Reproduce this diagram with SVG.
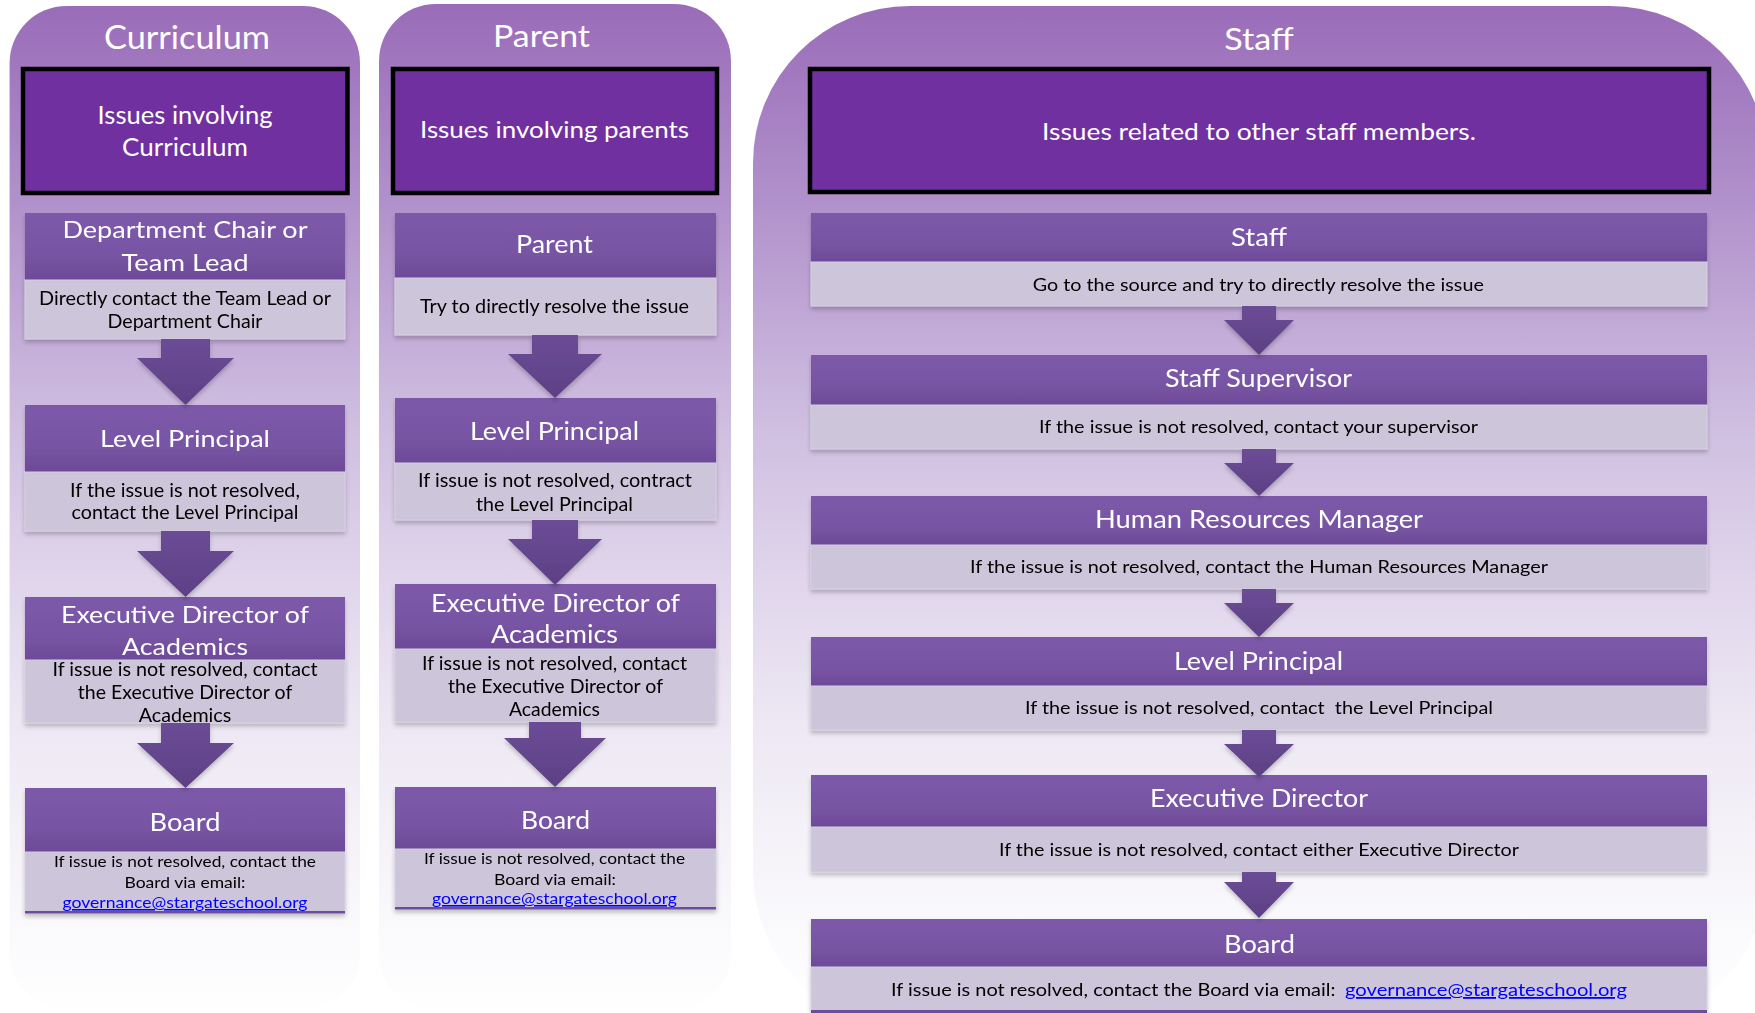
<svg xmlns="http://www.w3.org/2000/svg" width="1755" height="1013" viewBox="0 0 1755 1013">
<defs>
<linearGradient id="panelGrad" gradientUnits="userSpaceOnUse" x1="0" y1="0" x2="0" y2="1013">
<stop offset="0" stop-color="#996bb8"/>
<stop offset="0.2" stop-color="#b191cb"/>
<stop offset="0.4" stop-color="#cdbbdf"/>
<stop offset="0.55" stop-color="#ded2ea"/>
<stop offset="0.7" stop-color="#ece6f3"/>
<stop offset="0.85" stop-color="#f6f4f9"/>
<stop offset="1" stop-color="#ffffff"/>
</linearGradient>
<linearGradient id="hdrGrad" x1="0" y1="0" x2="0" y2="1">
<stop offset="0" stop-color="#7d59a9"/>
<stop offset="0.6" stop-color="#7855a4"/>
<stop offset="1" stop-color="#6d4a98"/>
</linearGradient>
<linearGradient id="arrGrad" x1="0" y1="0" x2="0" y2="1">
<stop offset="0" stop-color="#6b4c96"/>
<stop offset="1" stop-color="#5d4085"/>
</linearGradient>
<filter id="shadow" x="-5%" y="-10%" width="110%" height="130%">
<feDropShadow dx="0" dy="3" stdDeviation="2" flood-color="#000" flood-opacity="0.22"/>
</filter>
</defs>
<style>
.panel{fill:url(#panelGrad)}
.issue{fill:#7030a0;stroke:#000;stroke-width:4.5}
.hdr{fill:url(#hdrGrad)}
.body{fill:#cdc5da;stroke:#d6cfe2;stroke-width:1}
.arrow{fill:url(#arrGrad);filter:url(#shadow)}
.boardline{fill:#6d4e9a}
text{font-family:Lato,"Open Sans","Liberation Sans",sans-serif;text-anchor:middle}
.ttl{fill:#ffffff}
.wt{fill:#ffffff}
.bk{fill:#000000}
.lnk{fill:#0000ff;text-decoration:underline}
.pre{white-space:pre}
</style>
<rect x="0" y="0" width="1755" height="1013" fill="#ffffff"/>

<!-- Panels -->
<g id="panel-curriculum">
<rect class="panel" x="9.6" y="6" width="350.4" height="1004" rx="57" ry="57"/>
<text class="ttl" x="187" y="49" font-size="32" textLength="166" lengthAdjust="spacingAndGlyphs">Curriculum</text>
</g>
<g id="panel-parent">
<rect class="panel" x="379" y="4" width="352" height="1006" rx="57" ry="57"/>
<text class="ttl" x="541.5" y="47" font-size="30" textLength="97" lengthAdjust="spacingAndGlyphs">Parent</text>
</g>
<g id="panel-staff">
<rect class="panel" x="753" y="6" width="1014" height="1023" rx="157" ry="157"/>
<text class="ttl" x="1259" y="50" font-size="31" textLength="69.5" lengthAdjust="spacingAndGlyphs">Staff</text>
</g>

<!-- Curriculum column -->
<g id="c-issue">
<rect class="issue" x="23" y="69" width="324.5" height="124"/>
<text class="wt" x="185" y="124" font-size="25" textLength="175" lengthAdjust="spacingAndGlyphs">Issues involving</text>
<text class="wt" x="185" y="156" font-size="25" textLength="126" lengthAdjust="spacingAndGlyphs">Curriculum</text>
</g>
<g id="c-dept" filter="url(#shadow)">
<rect class="hdr" x="25" y="213" width="320" height="67"/>
<rect class="body" x="25" y="280" width="320" height="59"/>
<text class="wt" x="185" y="238" font-size="23" textLength="245" lengthAdjust="spacingAndGlyphs">Department Chair or</text>
<text class="wt" x="185" y="271" font-size="23" textLength="127" lengthAdjust="spacingAndGlyphs">Team Lead</text>
<text class="bk" x="185" y="305" font-size="19" textLength="292" lengthAdjust="spacingAndGlyphs">Directly contact the Team Lead or</text>
<text class="bk" x="185" y="328" font-size="19" textLength="155" lengthAdjust="spacingAndGlyphs">Department Chair</text>
</g>
<g id="c-level" filter="url(#shadow)">
<rect class="hdr" x="25" y="405" width="320" height="67"/>
<rect class="body" x="25" y="472" width="320" height="59"/>
<text class="wt" x="185" y="447" font-size="23" textLength="170" lengthAdjust="spacingAndGlyphs">Level Principal</text>
<text class="bk" x="185" y="497" font-size="19" textLength="230" lengthAdjust="spacingAndGlyphs">If the issue is not resolved,</text>
<text class="bk" x="185" y="519" font-size="19" textLength="227" lengthAdjust="spacingAndGlyphs">contact the Level Principal</text>
</g>
<g id="c-exec" filter="url(#shadow)">
<rect class="hdr" x="25" y="597" width="320" height="63"/>
<rect class="body" x="25" y="660" width="320" height="63"/>
<text class="wt" x="185" y="623" font-size="23" textLength="248" lengthAdjust="spacingAndGlyphs">Executive Director of</text>
<text class="wt" x="185" y="655" font-size="23" textLength="126" lengthAdjust="spacingAndGlyphs">Academics</text>
<text class="bk" x="185" y="676" font-size="19" textLength="265" lengthAdjust="spacingAndGlyphs">If issue is not resolved, contact</text>
<text class="bk" x="185" y="699" font-size="19" textLength="214.5" lengthAdjust="spacingAndGlyphs">the Executive Director of</text>
<text class="bk" x="185" y="722" font-size="19" textLength="92.5" lengthAdjust="spacingAndGlyphs">Academics</text>
</g>
<g id="c-board" filter="url(#shadow)">
<rect class="hdr" x="25" y="788" width="320" height="64"/>
<rect class="body" x="25" y="852" width="320" height="61"/>
<rect class="boardline" x="25" y="911" width="320" height="2.5"/>
<text class="wt" x="185" y="831" font-size="25" textLength="71" lengthAdjust="spacingAndGlyphs">Board</text>
<text class="bk" x="185" y="867" font-size="16" textLength="262" lengthAdjust="spacingAndGlyphs">If issue is not resolved, contact the</text>
<text class="bk" x="185" y="888" font-size="16" textLength="121" lengthAdjust="spacingAndGlyphs">Board via email:</text>
<text class="lnk" x="185" y="908" font-size="16" textLength="245" lengthAdjust="spacingAndGlyphs">governance@stargateschool.org</text>
</g>

<!-- Parent column -->
<g id="p-issue">
<rect class="issue" x="393" y="69" width="324" height="124"/>
<text class="wt" x="554.5" y="138" font-size="23" textLength="269" lengthAdjust="spacingAndGlyphs">Issues involving parents</text>
</g>
<g id="p-parent" filter="url(#shadow)">
<rect class="hdr" x="395" y="213" width="321" height="65"/>
<rect class="body" x="395" y="278" width="321" height="57"/>
<text class="wt" x="554.5" y="253" font-size="24.5" textLength="77" lengthAdjust="spacingAndGlyphs">Parent</text>
<text class="bk" x="554.5" y="313" font-size="19" textLength="269" lengthAdjust="spacingAndGlyphs">Try to directly resolve the issue</text>
</g>
<g id="p-level" filter="url(#shadow)">
<rect class="hdr" x="395" y="398" width="321" height="65"/>
<rect class="body" x="395" y="463" width="321" height="57"/>
<text class="wt" x="554.5" y="440" font-size="25" textLength="169" lengthAdjust="spacingAndGlyphs">Level Principal</text>
<text class="bk" x="555" y="487" font-size="19" textLength="274" lengthAdjust="spacingAndGlyphs">If issue is not resolved, contract</text>
<text class="bk" x="554.5" y="511" font-size="19" textLength="157" lengthAdjust="spacingAndGlyphs">the Level Principal</text>
</g>
<g id="p-exec" filter="url(#shadow)">
<rect class="hdr" x="395" y="584" width="321" height="65"/>
<rect class="body" x="395" y="649" width="321" height="73"/>
<text class="wt" x="555.5" y="612" font-size="25" textLength="249" lengthAdjust="spacingAndGlyphs">Executive Director of</text>
<text class="wt" x="554.5" y="643" font-size="25" textLength="127" lengthAdjust="spacingAndGlyphs">Academics</text>
<text class="bk" x="554.5" y="670" font-size="19" textLength="265" lengthAdjust="spacingAndGlyphs">If issue is not resolved, contact</text>
<text class="bk" x="555.5" y="693" font-size="19" textLength="215" lengthAdjust="spacingAndGlyphs">the Executive Director of</text>
<text class="bk" x="554.5" y="716" font-size="19" textLength="91" lengthAdjust="spacingAndGlyphs">Academics</text>
</g>
<g id="p-board" filter="url(#shadow)">
<rect class="hdr" x="395" y="787" width="321" height="62"/>
<rect class="body" x="395" y="849" width="321" height="60"/>
<rect class="boardline" x="395" y="907" width="321" height="2.5"/>
<text class="wt" x="555.5" y="829" font-size="25" textLength="69" lengthAdjust="spacingAndGlyphs">Board</text>
<text class="bk" x="554.5" y="864" font-size="16" textLength="261" lengthAdjust="spacingAndGlyphs">If issue is not resolved, contact the</text>
<text class="bk" x="555" y="885" font-size="16" textLength="122" lengthAdjust="spacingAndGlyphs">Board via email:</text>
<text class="lnk" x="554.5" y="904" font-size="16" textLength="245" lengthAdjust="spacingAndGlyphs">governance@stargateschool.org</text>
</g>

<!-- Staff column -->
<g id="s-issue">
<rect class="issue" x="810" y="69" width="899" height="123"/>
<text class="wt" x="1259" y="140" font-size="23" textLength="434" lengthAdjust="spacingAndGlyphs">Issues related to other staff members.</text>
</g>
<g id="s-staff" filter="url(#shadow)">
<rect class="hdr" x="811" y="213" width="896" height="49"/>
<rect class="body" x="811" y="262" width="896" height="44"/>
<text class="wt" x="1259" y="246" font-size="24.5" textLength="56" lengthAdjust="spacingAndGlyphs">Staff</text>
<text class="bk" x="1258.3" y="291" font-size="18" textLength="451" lengthAdjust="spacingAndGlyphs">Go to the source and try to directly resolve the issue</text>
</g>
<g id="s-supervisor" filter="url(#shadow)">
<rect class="hdr" x="811" y="355" width="896" height="50"/>
<rect class="body" x="811" y="405" width="896" height="44"/>
<text class="wt" x="1258.5" y="387" font-size="24.5" textLength="187" lengthAdjust="spacingAndGlyphs">Staff Supervisor</text>
<text class="bk" x="1258.5" y="433" font-size="18" textLength="439" lengthAdjust="spacingAndGlyphs">If the issue is not resolved, contact your supervisor</text>
</g>
<g id="s-hr" filter="url(#shadow)">
<rect class="hdr" x="811" y="496" width="896" height="49"/>
<rect class="body" x="811" y="545" width="896" height="44"/>
<text class="wt" x="1259" y="528" font-size="24.5" textLength="328" lengthAdjust="spacingAndGlyphs">Human Resources Manager</text>
<text class="bk" x="1259" y="573" font-size="18" textLength="578" lengthAdjust="spacingAndGlyphs">If the issue is not resolved, contact the Human Resources Manager</text>
</g>
<g id="s-level" filter="url(#shadow)">
<rect class="hdr" x="811" y="637" width="896" height="49"/>
<rect class="body" x="811" y="686" width="896" height="44"/>
<text class="wt" x="1258.5" y="670" font-size="24.5" textLength="169" lengthAdjust="spacingAndGlyphs">Level Principal</text>
<text class="bk pre" x="1259" y="714" font-size="18" textLength="468" lengthAdjust="spacingAndGlyphs">If the issue is not resolved, contact  the Level Principal</text>
</g>
<g id="s-exec" filter="url(#shadow)">
<rect class="hdr" x="811" y="775" width="896" height="52"/>
<rect class="body" x="811" y="827" width="896" height="45"/>
<text class="wt" x="1259" y="807" font-size="24.5" textLength="218" lengthAdjust="spacingAndGlyphs">Executive Director</text>
<text class="bk" x="1259" y="856" font-size="18" textLength="520" lengthAdjust="spacingAndGlyphs">If the issue is not resolved, contact either Executive Director</text>
</g>
<g id="s-board" filter="url(#shadow)">
<rect class="hdr" x="811" y="919" width="896" height="48"/>
<rect class="body" x="811" y="967" width="896" height="45"/>
<rect class="boardline" x="811" y="1010" width="896" height="3"/>
<text class="wt" x="1259.5" y="953" font-size="24.5" textLength="71" lengthAdjust="spacingAndGlyphs">Board</text>
<text class="bk" x="1113.25" y="996" font-size="18" textLength="444.5" lengthAdjust="spacingAndGlyphs">If issue is not resolved, contact the Board via email:</text>
<text class="lnk" x="1486" y="996" font-size="18" textLength="282" lengthAdjust="spacingAndGlyphs">governance@stargateschool.org</text>
</g>

<!-- Connectors -->
<g id="connectors">
<polygon class="arrow" points="161,339 210,339 210,358 234,358 185.5,405 137,358 161,358"/>
<polygon class="arrow" points="161,531 210,531 210,551 234,551 185.5,597 137,551 161,551"/>
<polygon class="arrow" points="161,723 210,723 210,743 234,743 185.5,788 137,743 161,743"/>
<polygon class="arrow" points="532,335 578,335 578,354 602,354 555,398 508,354 532,354"/>
<polygon class="arrow" points="532,520 578,520 578,539 602,539 555,585 508,539 532,539"/>
<polygon class="arrow" points="529,722 581,722 581,738 606,738 555,787 504,738 529,738"/>
<polygon class="arrow" points="1242,306 1276,306 1276,320 1294,320 1259,355 1224,320 1242,320"/>
<polygon class="arrow" points="1242,449 1276,449 1276,463 1294,463 1259,496 1224,463 1242,463"/>
<polygon class="arrow" points="1242,589 1276,589 1276,603 1294,603 1259,637 1224,603 1242,603"/>
<polygon class="arrow" points="1242,730 1276,730 1276,744 1294,744 1259,777 1224,744 1242,744"/>
<polygon class="arrow" points="1242,872 1276,872 1276,882 1294,882 1259,918 1224,882 1242,882"/>
</g>
</svg>
